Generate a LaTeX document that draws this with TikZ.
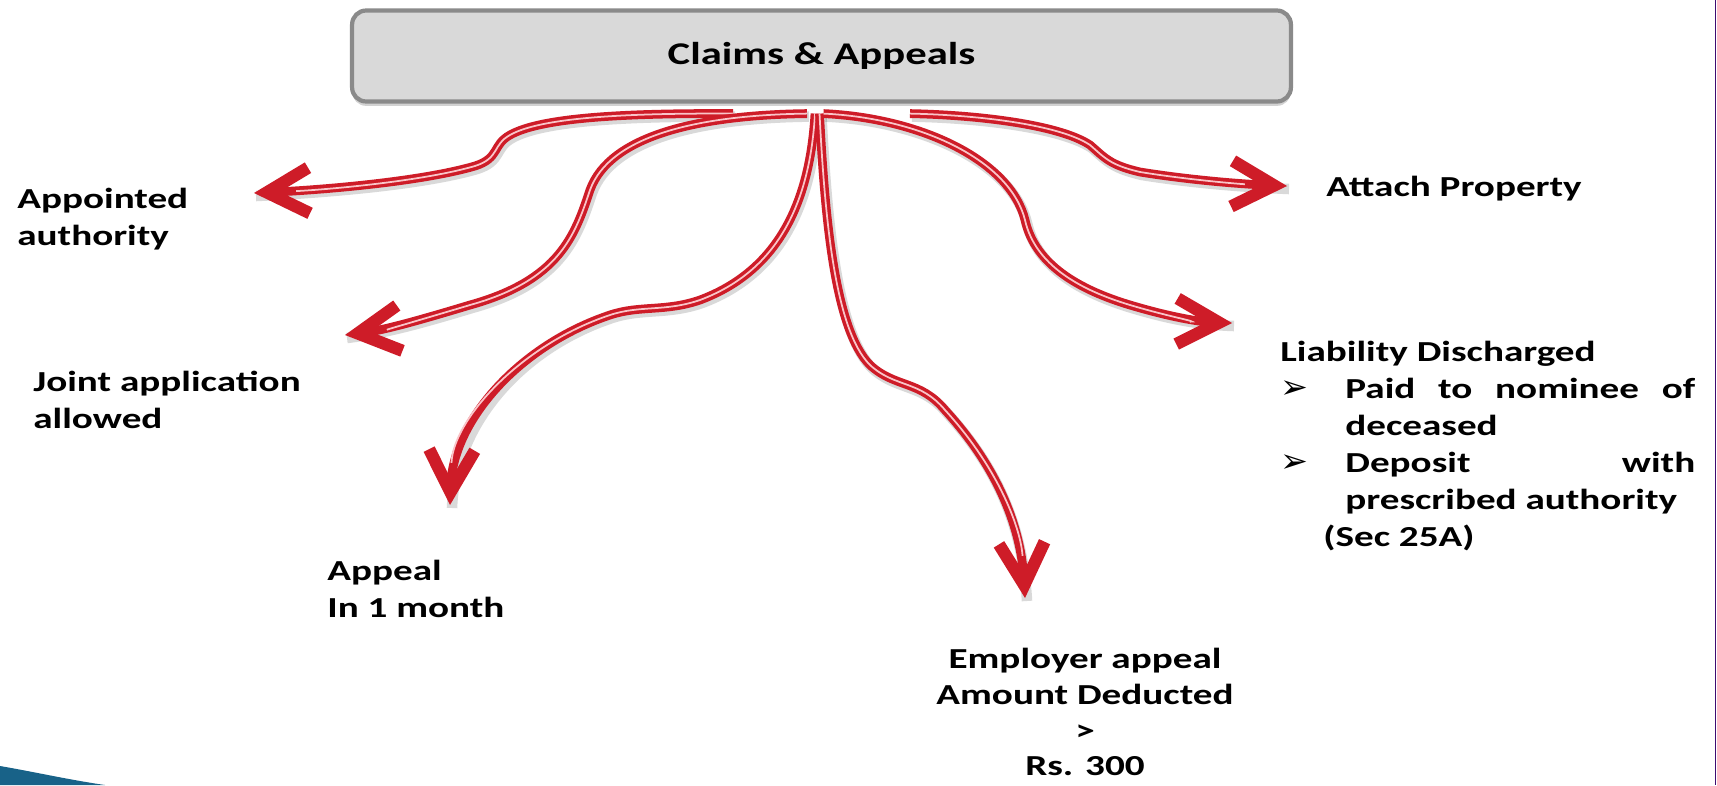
\documentclass[tikz,border=0pt]{standalone}
\usepackage{fontspec}
\setmainfont{Carlito}[FakeStretch=1.35]
\newfontfamily\symfont{DejaVu Sans}
\usetikzlibrary{arrows.meta,shadows,calc}

\definecolor{arrowred}{RGB}{206,28,40}
\definecolor{arrowhi}{RGB}{250,196,200}
\definecolor{boxfill}{RGB}{217,217,217}
\definecolor{boxline}{RGB}{138,138,138}
\definecolor{swoosh}{RGB}{24,98,136}
\definecolor{edgeline}{RGB}{62,12,112}

\tikzset{
  flow/.style={draw=arrowred, line width=5pt,
    -{Straight Barb[length=24pt, width=26pt, line width=7pt]},
    preaction={draw=black, opacity=0.15, line width=6pt, -,
      transform canvas={shift={(2,3)}}},
    postaction={draw=arrowhi, line width=1pt, -, shorten >=24pt}},
  headbox/.style={draw=boxline, line width=2.4pt, fill=boxfill,
    rounded corners=8pt, minimum width=18.78cm, minimum height=1.82cm,
    drop shadow={shadow xshift=0pt, shadow yshift=-2.5pt, opacity=0.35},
    font=\bfseries\fontsize{18}{22}\selectfont},
  lbl/.style={font=\bfseries\fontsize{16.5}{21}\selectfont, align=left, inner sep=0pt}
}
\newcommand{\tickmark}{\makebox[1.3cm][l]{\symfont\fontsize{19}{21}\selectfont ➢}}

\begin{document}
\begin{tikzpicture}[x=0.02cm, y=-0.02cm]
  \useasboundingbox[fill=white] (0,0) rectangle (1717,785);

  % slide decoration
  \fill[swoosh] (0,766) .. controls (35,772) and (70,780) .. (105,785) -- (0,785) -- cycle;
  \draw[edgeline, line width=1pt] (1715.5,0) -- (1715.5,785);

  % Heading
  \node[headbox] (claims) at (821.5,56) {Claims \& Appeals};

  % Labels
  \node[lbl, anchor=north west] (appointed) at (17,188) {Appointed\\authority};
  \node[lbl, anchor=north west] (joint) at (33,371) {Joint application\\allowed};
  \node[lbl, anchor=north west] (appeal) at (327,560) {Appeal\\In 1 month};
  \node[lbl, anchor=north, align=center, font=\bfseries\fontsize{16.5}{20.3}\selectfont]
    (employer) at (1085,648) {Employer appeal\\Amount Deducted\\>\\Rs. 300};
  \node[lbl, anchor=north west] (attach) at (1326,176) {Attach Property};
  \node[lbl, anchor=north west] (liability) at (1280,341)
    {Liability Discharged\\
     \tickmark\makebox[7cm][s]{Paid to nominee of}\\
     \hspace*{1.3cm}deceased\\
     \tickmark\makebox[7cm][s]{Deposit with}\\
     \hspace*{1.3cm}prescribed authority\\
     \hspace*{0.86cm}(Sec 25A)};

  % Arrow ends
  \coordinate (s1) at ($(claims.south)+(-88.5,10)$);
  \coordinate (s2) at ($(claims.south)+(-14.5,10)$);
  \coordinate (s3) at ($(claims.south)+(-6.5,10)$);
  \coordinate (s4) at ($(claims.south)+(-2,10)$);
  \coordinate (s5) at ($(claims.south)+(2,10)$);
  \coordinate (s6) at ($(claims.south)+(88.5,10)$);
  \coordinate (t1) at (254,193);
  \coordinate (t2) at (345,335);
  \coordinate (t3) at (450,505);
  \coordinate (t4) at (1025,598);
  \coordinate (t5) at (1232,323);
  \coordinate (t6) at (1287,186);

  % Arrows
  \draw[flow] (s1) .. controls (620,113) and (540,118) .. (510,135)
    .. controls (492,145) and (500,158) .. (475,166)
    .. controls (420,182) and (320,190) .. (t1);
  \draw[flow] (s2) .. controls (700,115) and (610,135) .. (590,190)
    .. controls (575,235) and (560,280) .. (470,305)
    .. controls (420,320) and (385,330) .. (t2);
  \draw[flow] (s3) .. controls (810,200) and (780,270) .. (700,300)
    .. controls (665,312) and (640,305) .. (610,315)
    .. controls (520,345) and (453,420) .. (t3);
  \draw[flow] (s4) .. controls (825,220) and (835,330) .. (870,365)
    .. controls (895,388) and (920,380) .. (945,410)
    .. controls (1000,470) and (1021,530) .. (t4);
  \draw[flow] (s5) .. controls (920,118) and (1010,160) .. (1025,220)
    .. controls (1035,265) and (1080,290) .. (1130,305)
    .. controls (1170,317) and (1200,322) .. (t5);
  \draw[flow] (s6) .. controls (980,115) and (1060,125) .. (1090,145)
    .. controls (1105,158) and (1110,165) .. (1140,172)
    .. controls (1190,180) and (1240,184) .. (t6);
\end{tikzpicture}
\end{document}
